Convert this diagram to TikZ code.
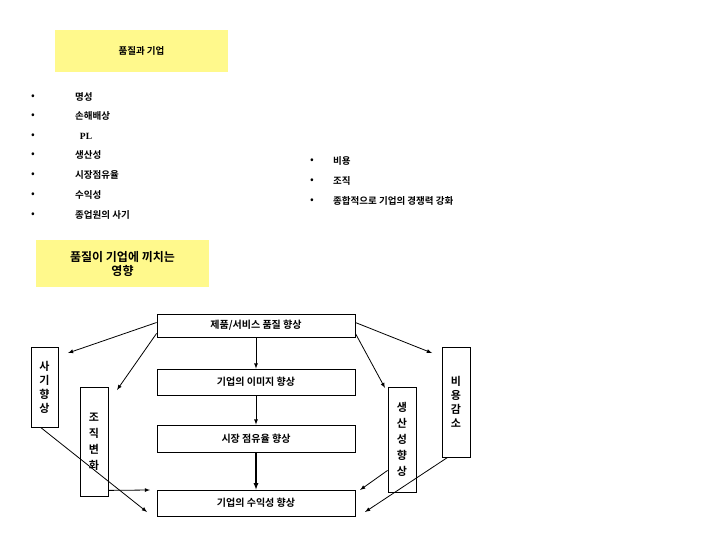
\documentclass[tikz,border=0pt]{standalone}
\usepackage{fontspec}
\setmainfont{Noto Sans CJK KR}[BoldFont={Noto Sans CJK KR Bold}]
\newfontfamily\serifpl{Liberation Serif}[BoldFont={Liberation Serif Bold}]
\begin{document}
\begin{tikzpicture}[x=1pt,y=-1pt,
 bx/.style={draw,thick,fill=white,inner sep=0pt,font=\fontsize{10}{11}\selectfont\bfseries},
 ar/.style={-latex,thick},
 bl/.style={anchor=west,font=\fontsize{9.5}{10}\selectfont\bfseries,inner sep=0pt},
 dot/.style={font=\fontsize{11}{12}\selectfont,inner sep=0pt}]
\useasboundingbox (0,0) rectangle (720,540);
\node[fill=yellow!45,minimum width=173pt,minimum height=42pt,font=\fontsize{9.5}{10}\selectfont\bfseries] (t1) at (141.5,51) {품질과 기업};
\foreach \y/\t [count=\i] in {97/명성,116/손해배상,136/{\serifpl\ \ PL},155/생산성,175/시장점유율,195/수익성,215/종업원의 사기}{
 \node[dot] (b\i) at (33,\y) {•};
 \node[bl] (l\i) at (75,\y) {\t};}
\foreach \y/\t [count=\i] in {161/비용,181/조직,201/종합적으로 기업의 경쟁력 강화}{
 \node[dot] (c\i) at (312,\y) {•};
 \node[bl] (m\i) at (333,\y) {\t};}
\node[fill=yellow!45,minimum width=173pt,minimum height=47pt,align=center,font=\fontsize{12}{14}\selectfont\bfseries] (t2) at (122.5,263.5) {품질이 기업에 끼치는\\영향};
\node[bx,minimum width=198pt,minimum height=23pt] (top) at (256,325.5) {제품/서비스 품질 향상};
\node[bx,minimum width=198pt,minimum height=26pt] (img) at (256,382) {기업의 이미지 향상};
\node[bx,minimum width=198pt,minimum height=27pt] (mkt) at (256,438.5) {시장 점유율 향상};
\node[bx,minimum width=198pt,minimum height=26pt] (prf) at (256,503) {기업의 수익성 향상};
\node[bx,minimum width=27pt,minimum height=80pt,align=center,font=\fontsize{11}{14}\selectfont\bfseries] (sa) at (44.5,387) {사\\기\\향\\상};
\node[bx,minimum width=28pt,minimum height=109pt,align=center,font=\fontsize{11}{16}\selectfont\bfseries] (jo) at (94,441.5) {조\\직\\변\\화};
\node[bx,minimum width=28pt,minimum height=105pt,align=center,font=\fontsize{11}{16}\selectfont\bfseries] (sp) at (402,439.5) {생\\산\\성\\향\\상};
\node[bx,minimum width=28pt,minimum height=110pt,align=center,font=\fontsize{11}{14}\selectfont\bfseries] (bi) at (456,402) {비\\용\\감\\소};
\coordinate (e1) at (68,353); \coordinate (e2) at (117,390);
\coordinate (e3) at (432,353); \coordinate (e4) at (385,388);
\coordinate (e5) at (147,512); \coordinate (e6) at (150,490);
\coordinate (e7) at (360,490); \coordinate (e8) at (365,512);
\draw[ar] (top.west) ++(0,-3) -- (e1);
\draw[ar] ([yshift=4pt]top.south west) -- (e2);
\draw[ar] (top.east) ++(0,-3) -- (e3);
\draw[ar] ([yshift=4pt]top.south east) -- (e4);
\draw[ar] (top) -- (img);
\draw[ar] (img) -- (mkt);
\draw[-latex,very thick] (mkt) -- (prf);
\draw[ar] ([xshift=10pt]sa.south west) -- (e5);
\draw[ar] ([yshift=6pt]jo.south east) -- (e6);
\draw[ar] ([yshift=22pt]sp.south west) -- (e7);
\draw[ar] ([xshift=6pt]bi.south west) -- (e8);
\end{tikzpicture}
\end{document}
